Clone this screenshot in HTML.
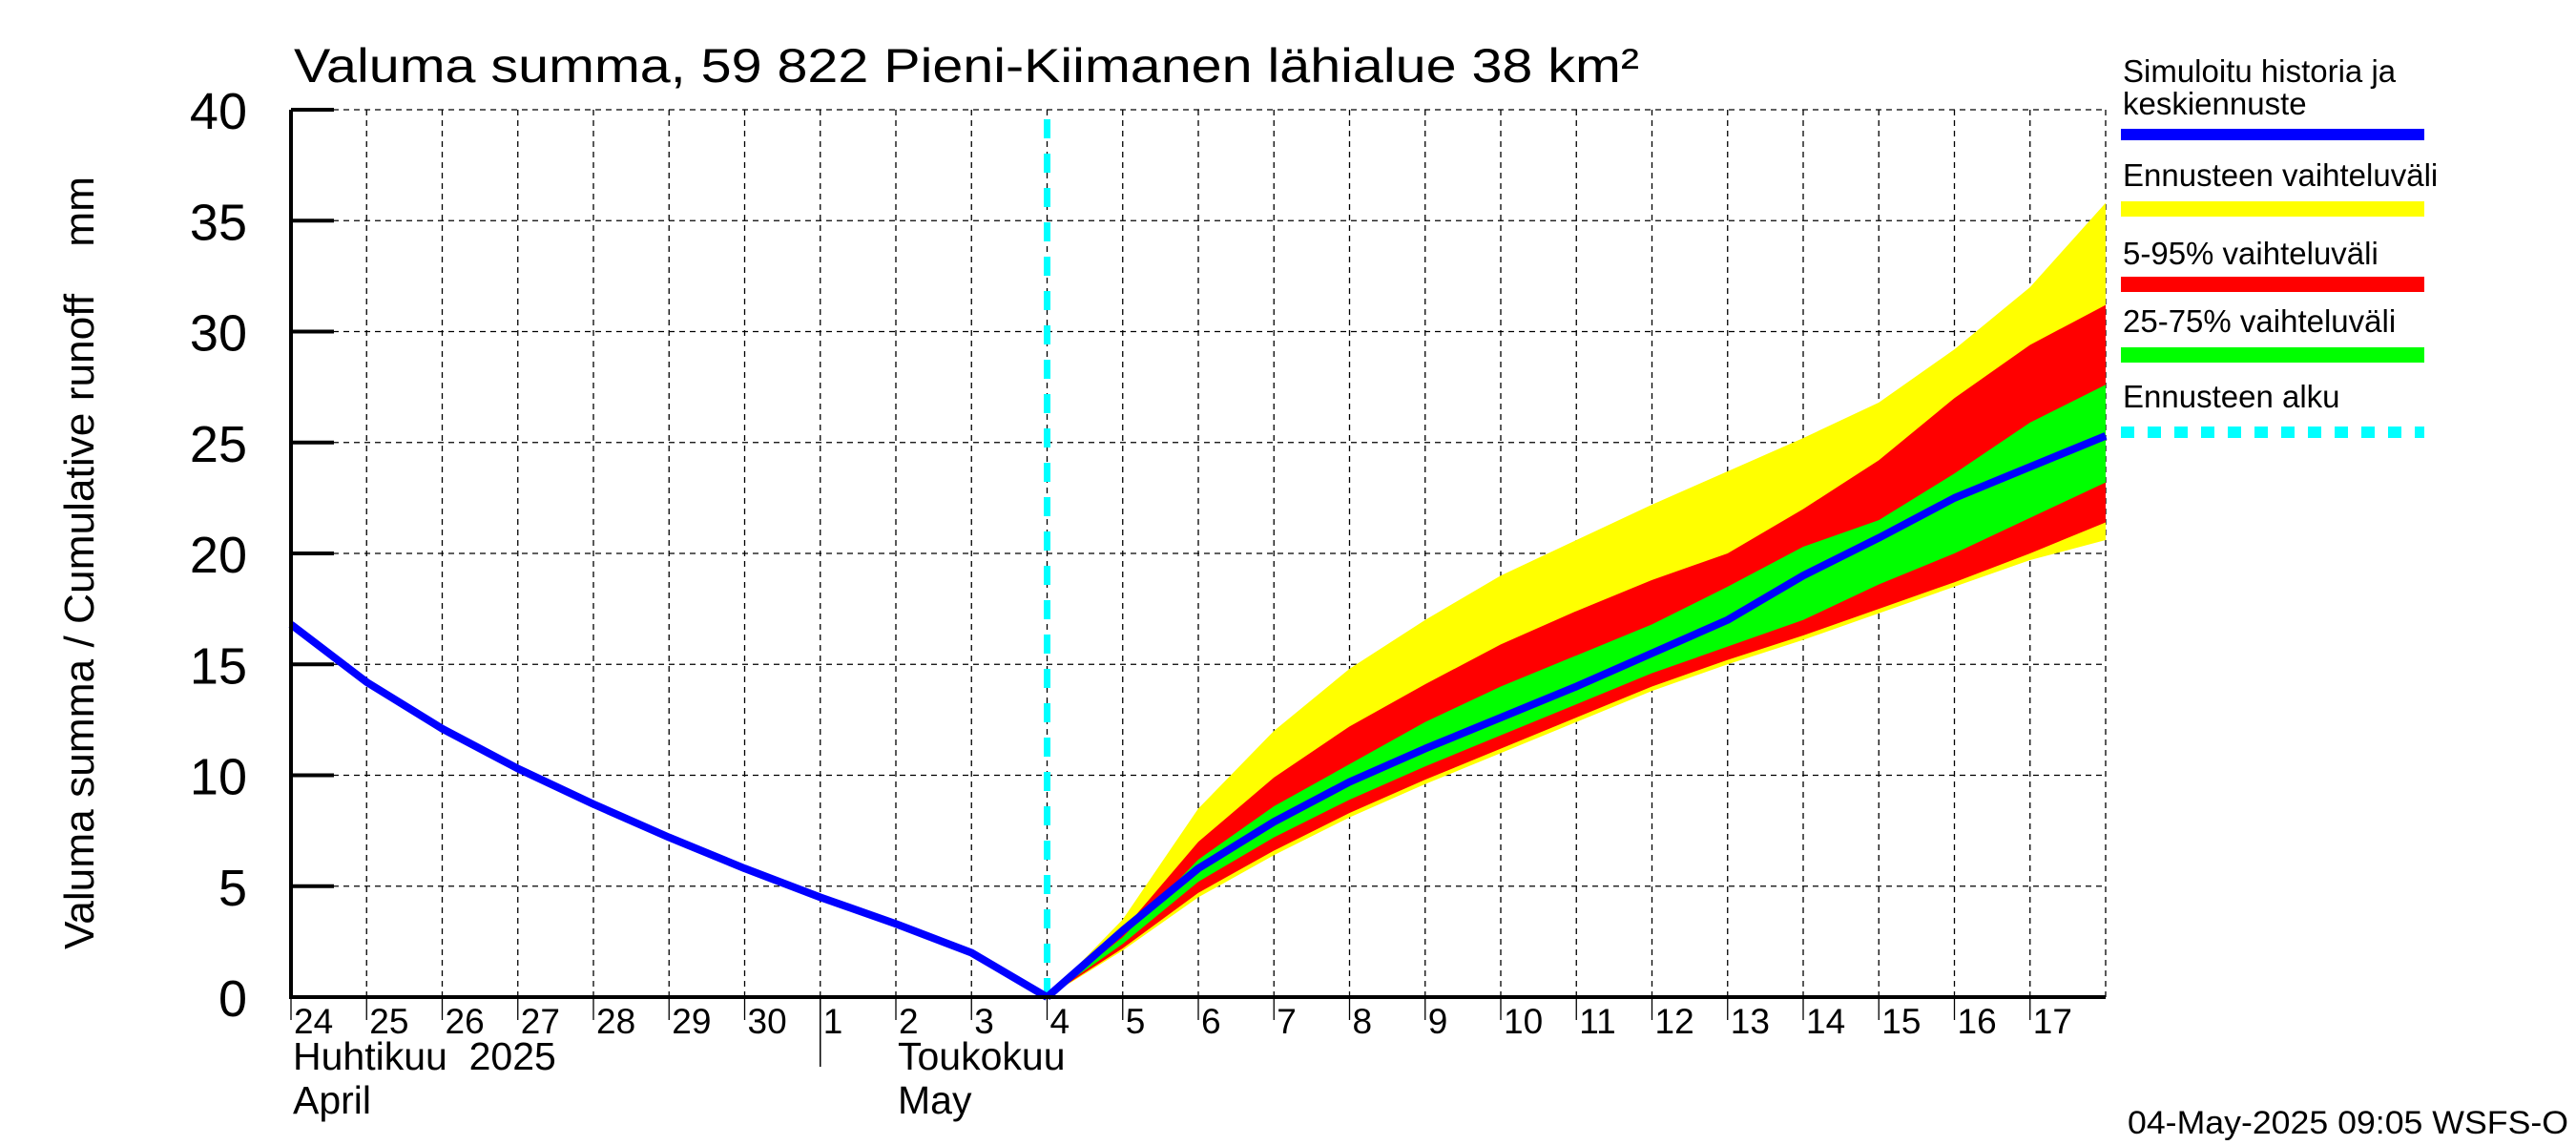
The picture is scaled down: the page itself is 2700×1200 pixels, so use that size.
<!DOCTYPE html>
<html><head><meta charset="utf-8"><style>
html,body{margin:0;padding:0;background:#fff}
svg{display:block;font-family:"Liberation Sans",sans-serif}
</style></head><body>
<svg id="chart" width="2700" height="1200" viewBox="0 0 2700 1200" xmlns="http://www.w3.org/2000/svg">
<text x="308" y="86" font-size="50" textLength="1410" lengthAdjust="spacingAndGlyphs">Valuma summa, 59 822 Pieni-Kiimanen lähialue 38 km²</text>
<text transform="translate(98,590) rotate(-90)" font-size="44" text-anchor="middle" textLength="810" lengthAdjust="spacingAndGlyphs" style="white-space:pre">Valuma summa / Cumulative runoff    mm</text>
<g id="grid"></g>
<g id="bands"></g>
<g id="lines"></g>
<g id="axes"></g>
<g font-size="33">
<text x="2225" y="86">Simuloitu historia ja</text>
<text x="2225" y="120">keskiennuste</text>
<rect x="2223" y="135" width="318" height="12" fill="#0000ff"/>
<text x="2225" y="195">Ennusteen vaihteluväli</text>
<rect x="2223" y="211" width="318" height="16" fill="#ffff00"/>
<text x="2225" y="277">5-95% vaihteluväli</text>
<rect x="2223" y="290" width="318" height="16" fill="#ff0000"/>
<text x="2225" y="348">25-75% vaihteluväli</text>
<rect x="2223" y="364" width="318" height="16" fill="#00ff00"/>
<text x="2225" y="427">Ennusteen alku</text>
<line x1="2223" y1="453" x2="2541" y2="453" stroke="#00ffff" stroke-width="12" stroke-dasharray="14,14"/>
</g>
<text x="2692" y="1188" font-size="34" text-anchor="end" textLength="462" lengthAdjust="spacingAndGlyphs">04-May-2025 09:05 WSFS-O</text>
</svg>
<script>
const dayLabels=["24","25","26","27","28","29","30","1","2","3","4","5","6","7","8","9","10","11","12","13","14","15","16","17"];
const yTicks=[0,5,10,15,20,25,30,35,40];
const historyDays=[0,1,2,3,4,5,6,7,8,9,10];
const historyValues=[16.8,14.2,12.1,10.3,8.7,7.2,5.8,4.5,3.3,2.0,0];
const fcDays=[10,11,12,13,14,15,16,17,18,19,20,21,22,23,24];
const median=[0,3.0,5.8,7.9,9.7,11.2,12.6,14.0,15.5,17.0,19.0,20.7,22.5,23.9,25.3];
const maxV=[0,3.5,8.5,12.0,14.8,17.0,19.0,20.6,22.2,23.7,25.2,26.8,29.2,32.0,35.8];
const p95=[0,3.0,7.0,9.9,12.2,14.1,15.9,17.4,18.8,20.0,22.0,24.2,27.0,29.4,31.2];
const p75=[0,2.7,6.2,8.6,10.5,12.4,14.0,15.4,16.8,18.5,20.3,21.5,23.6,25.9,27.6];
const p25=[0,2.4,5.2,7.2,8.9,10.4,11.8,13.2,14.6,15.8,17.0,18.6,20.0,21.6,23.2];
const p5=[0,2.2,4.7,6.6,8.3,9.8,11.2,12.6,14.0,15.2,16.3,17.5,18.7,20.0,21.4];
const minV=[0,2.1,4.5,6.4,8.1,9.6,11.0,12.4,13.8,15.0,16.1,17.3,18.5,19.7,20.6];
const forecastStart=10;
const L=305,R=2207,T=115,B=1045,NDAYS=24;
const X=d=>L+d*(R-L)/NDAYS;
const Y=v=>B-v*(B-T)/40;
const NS="http://www.w3.org/2000/svg";
function mk(tag,attrs,parent){const e=document.createElementNS(NS,tag);for(const k in attrs)e.setAttribute(k,attrs[k]);document.getElementById(parent).appendChild(e);return e;}
for(let i=1;i<=NDAYS;i++){const g=mk('line',{x1:X(i),x2:X(i),y1:T,y2:B,stroke:'#000','stroke-width':1.3,'stroke-dasharray':'6,5'},'grid');

}
yTicks.forEach(v=>{if(v===0)return;const g=mk('line',{x1:L,x2:R,y1:Y(v),y2:Y(v),stroke:'#000','stroke-width':1.3,'stroke-dasharray':'6,5'},'grid');

});
function band(up,lo,col,name){let pts=fcDays.map((d,i)=>X(d)+','+Y(up[i]));for(let i=fcDays.length-1;i>=0;i--)pts.push(X(fcDays[i])+','+Y(lo[i]));
const p=mk('polygon',{points:pts.join(' '),fill:col},'bands');

}
band(maxV,minV,'#ffff00','band-min-max');
band(p95,p5,'#ff0000','band-5-95');
band(p75,p25,'#00ff00','band-25-75');
const fs=mk('line',{x1:X(forecastStart),x2:X(forecastStart),y1:T+10,y2:B,stroke:'#00ffff','stroke-width':7,'stroke-dasharray':'20,16'},'lines');


const h=mk('polyline',{points:historyDays.map((d,i)=>X(d)+','+Y(historyValues[i])).join(' '),fill:'none',stroke:'#0000ff','stroke-width':8,'stroke-linejoin':'round'},'lines');


const m=mk('polyline',{points:fcDays.map((d,i)=>X(d)+','+Y(median[i])).join(' '),fill:'none',stroke:'#0000ff','stroke-width':8,'stroke-linejoin':'round'},'lines');


const ax=mk('polyline',{points:`${L},${T} ${L},${B} ${R},${B}`,fill:'none',stroke:'#000','stroke-width':4},'axes');


yTicks.forEach(v=>{const t=mk('line',{x1:L,x2:L+45,y1:Y(v),y2:Y(v),stroke:'#000','stroke-width':4},'axes');


const tx=mk('text',{x:259,y:Y(v)+20,'font-size':54,'text-anchor':'end'},'axes');tx.textContent=v;

});
dayLabels.forEach((s,i)=>{const t=mk('line',{x1:X(i),x2:X(i),y1:B,y2:B+24,stroke:'#000','stroke-width':1.3},'axes');


const tx=mk('text',{x:X(i)+3,y:1083,'font-size':37},'axes');tx.textContent=s;

});
const ms=mk('line',{x1:X(7),x2:X(7),y1:B,y2:1118,stroke:'#000','stroke-width':1.5},'axes');


[["Huhtikuu  2025",X(0)+2,1121,'month-label-fi-april'],["April",X(0)+2,1167,'month-label-en-april'],["Toukokuu",X(8)+2,1121,'month-label-fi-may'],["May",X(8)+2,1167,'month-label-en-may']].forEach(a=>{
const tx=mk('text',{x:a[1],y:a[2],'font-size':41},'axes');tx.textContent=a[0];tx.style.whiteSpace='pre';

});
</script>
</body></html>
